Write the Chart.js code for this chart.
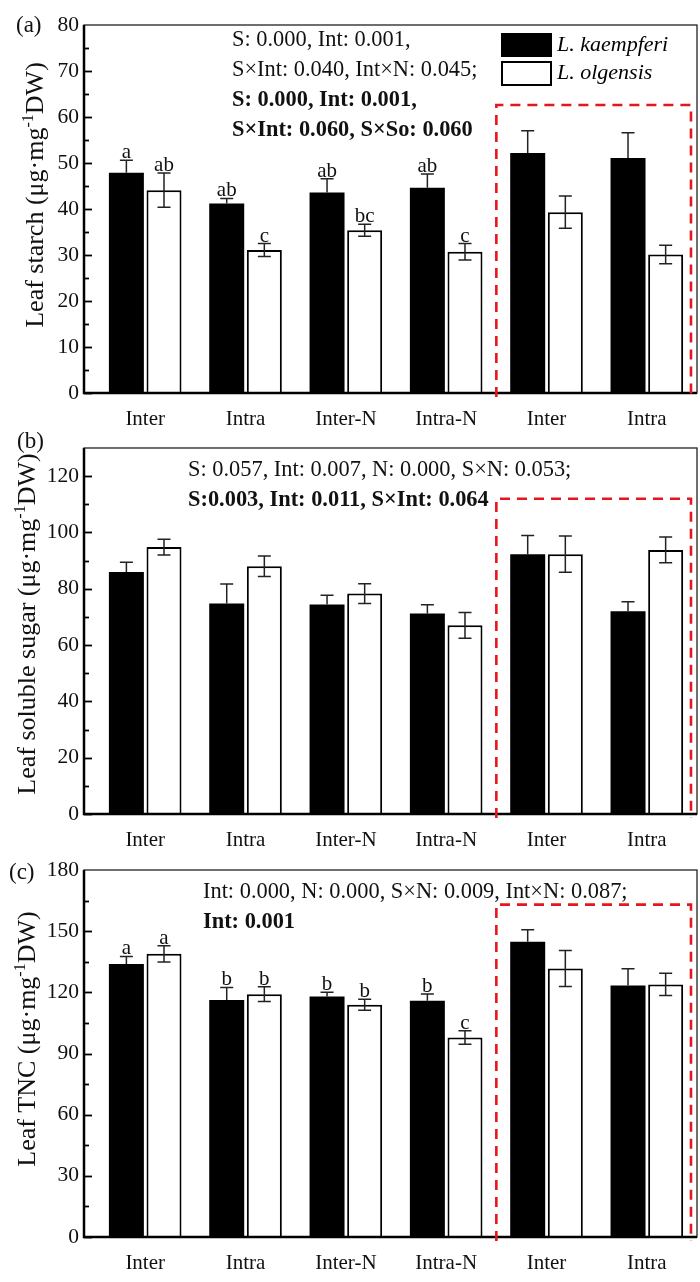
<!DOCTYPE html>
<html>
<head>
<meta charset="utf-8">
<script src="https://cdn.jsdelivr.net/npm/chart.js@4.4.0/dist/chart.umd.min.js"></script>
<style>
  body { margin: 0; background: #fff; width: 700px; height: 1282px; position: relative; overflow: hidden; }
  .panel { position: absolute; left: 0; width: 700px; }
</style>
</head>
<body>
<div class="panel" style="top:0;height:430px"><canvas id="chartA"></canvas></div>
<div class="panel" style="top:425px;height:425px"><canvas id="chartB"></canvas></div>
<div class="panel" style="top:850px;height:432px"><canvas id="chartC"></canvas></div>

<script>
// =======================
// Data
// =======================
const groups = ["Inter", "Intra", "Inter-N", "Intra-N", "Inter", "Intra"];
const species = ["L. kaempferi", "L. olgensis"];

// (a) leaf starch
const starchK = [47.9, 41.2, 43.6, 44.6, 52.2, 51.1];
const starchKErr = [2.7, 1.1, 3.0, 3.0, 4.8, 5.5];
const starchO = [44.1, 31.1, 35.4, 30.7, 39.3, 30.1];
const starchOErr = [3.7, 1.4, 1.3, 1.8, 3.5, 2.0];
const starchLettersK = ["a", "ab", "ab", "ab", "", ""];
const starchLettersO = ["ab", "c", "bc", "c", "", ""];

// (b) leaf soluble sugar
const sugarK = [86.0, 74.8, 74.4, 71.2, 92.3, 72.0];
const sugarKErr = [3.4, 6.9, 3.3, 3.1, 6.6, 3.4];
const sugarO = [94.8, 88.0, 78.3, 67.0, 92.3, 93.8];
const sugarOErr = [2.8, 3.6, 3.5, 4.6, 6.4, 4.6];

// (c) leaf TNC
const tncK = [133.9, 116.2, 118.0, 115.9, 144.8, 123.4];
const tncKErr = [3.7, 6.2, 2.0, 3.3, 5.9, 8.2];
const tncO = [138.9, 119.1, 113.9, 97.8, 131.7, 123.9];
const tncOErr = [4.0, 3.6, 2.7, 3.3, 8.8, 5.4];
const tncLettersK = ["a", "b", "b", "b", "", ""];
const tncLettersO = ["a", "b", "b", "c", "", ""];

// tick values
const ticksA = [0, 10, 20, 30, 40, 50, 60, 70, 80];
const ticksB = [0, 20, 40, 60, 80, 100, 120];
const ticksC = [0, 30, 60, 90, 120, 150, 180];

// stats text
const statsA = [
  ["S: 0.000, Int: 0.001,", false],
  ["S×Int: 0.040, Int×N: 0.045;", false],
  ["S: 0.000, Int: 0.001,", true],
  ["S×Int: 0.060, S×So: 0.060", true]
];
const statsB = [
  ["S: 0.057, Int: 0.007, N: 0.000, S×N: 0.053;", false],
  ["S:0.003, Int: 0.011, S×Int: 0.064", true]
];
const statsC = [
  ["Int: 0.000, N: 0.000, S×N: 0.009, Int×N: 0.087;", false],
  ["Int: 0.001", true]
];

const SERIF = '"Liberation Serif", "Times New Roman", serif';

// =======================
// Drawing helpers
// =======================
function drawYTitle(ctx, pieces, x, cy, size) {
  ctx.save();
  ctx.translate(x, cy);
  ctx.rotate(-Math.PI / 2);
  ctx.textBaseline = 'alphabetic';
  ctx.textAlign = 'left';
  const supSize = size * 0.62;
  const widths = pieces.map((p, i) => {
    ctx.font = (i === 1 ? supSize : size) + 'px ' + SERIF;
    return ctx.measureText(p).width;
  });
  let sx = -widths.reduce((a, b) => a + b, 0) / 2;
  pieces.forEach((p, i) => {
    ctx.font = (i === 1 ? supSize : size) + 'px ' + SERIF;
    ctx.fillStyle = '#111';
    ctx.fillText(p, sx, i === 1 ? -size * 0.38 : 0);
    sx += widths[i];
  });
  ctx.restore();
}

const panelPlugin = {
  id: 'panel',
  afterDatasetsDraw(chart, args, opts) {
    const ctx = chart.ctx, area = chart.chartArea;
    const xs = chart.scales.x, ys = chart.scales.y;
    ctx.save();

    // error bars and letters
    chart.data.datasets.forEach((ds, di) => {
      const meta = chart.getDatasetMeta(di);
      meta.data.forEach((bar, i) => {
        const v = ds.data[i].y, e = ds.errors[i];
        const yTop = ys.getPixelForValue(v + e);
        const yBot = ys.getPixelForValue(v - e);
        ctx.strokeStyle = '#222';
        ctx.lineWidth = 1.5;
        ctx.beginPath();
        ctx.moveTo(bar.x, ds.filled ? bar.y : yBot);
        ctx.lineTo(bar.x, yTop);
        ctx.moveTo(bar.x - 6.5, yTop); ctx.lineTo(bar.x + 6.5, yTop);
        if (!ds.filled) { ctx.moveTo(bar.x - 6.5, yBot); ctx.lineTo(bar.x + 6.5, yBot); }
        ctx.stroke();
        const letter = ds.letters ? ds.letters[i] : '';
        if (letter) {
          ctx.fillStyle = '#111';
          ctx.font = '21px ' + SERIF;
          ctx.textAlign = 'center';
          ctx.textBaseline = 'alphabetic';
          ctx.fillText(letter, bar.x, yTop - 2);
        }
      });
    });

    // frame
    ctx.strokeStyle = '#222';
    ctx.lineWidth = 1.3;
    ctx.strokeRect(area.left, area.top, area.right - area.left, area.bottom - area.top);
    ctx.strokeStyle = '#000';
    ctx.lineWidth = 2.5;
    ctx.beginPath();
    ctx.moveTo(area.left, area.top);
    ctx.lineTo(area.left, area.bottom);
    ctx.lineTo(area.right, area.bottom);
    ctx.stroke();

    // inward ticks (major + minor)
    ctx.lineWidth = 1.8;
    const step = opts.ticks[1] - opts.ticks[0];
    for (let v = 0; v < ys.max; v += step / 2) {
      const major = opts.ticks.includes(v);
      const py = Math.round(ys.getPixelForValue(v)) + 0.5;
      ctx.beginPath();
      ctx.moveTo(area.left, py);
      ctx.lineTo(area.left + (major ? 8 : 5), py);
      ctx.stroke();
    }

    // red dashed highlight box
    const bx0 = xs.getPixelForValue(4.5), bx1 = xs.getPixelForValue(6.44);
    const by = ys.getPixelForValue(opts.boxTop);
    ctx.strokeStyle = '#e5161e';
    ctx.lineWidth = 2.6;
    ctx.setLineDash([10, 7]);
    ctx.beginPath();
    ctx.moveTo(bx0, area.bottom + 4);
    ctx.lineTo(bx0, by);
    ctx.lineTo(bx1, by);
    ctx.lineTo(bx1, area.bottom + 4);
    ctx.stroke();
    ctx.setLineDash([]);

    // stats text
    ctx.fillStyle = '#111';
    ctx.textAlign = 'left';
    ctx.textBaseline = 'middle';
    opts.stats.forEach(([txt, bold], i) => {
      ctx.font = (bold ? 'bold ' : '') + '22.4px ' + SERIF;
      ctx.fillText(txt, area.left + opts.statsX, area.top + opts.statsY + i * 30);
    });

    // legend
    if (opts.legend) {
      const lx = 501, ly = 33;
      ctx.fillStyle = '#000';
      ctx.fillRect(lx, ly, 51, 24);
      ctx.strokeStyle = '#000';
      ctx.lineWidth = 2;
      ctx.strokeRect(lx + 1, ly + 29, 49, 23);
      ctx.font = 'italic 22px ' + SERIF;
      ctx.textBaseline = 'middle';
      ctx.fillText(species[0], lx + 56, ly + 12);
      ctx.fillText(species[1], lx + 56, ly + 40);
    }

    // panel label + y title
    ctx.font = '23px ' + SERIF;
    ctx.textBaseline = 'middle';
    ctx.fillStyle = '#111';
    ctx.fillText(opts.label, opts.labelPos[0], opts.labelPos[1]);
    drawYTitle(ctx, opts.title, opts.titleX, opts.titleY, 26);

    ctx.restore();
  }
};

// =======================
// Chart factory
// =======================
function makePanel(id, p) {
  const pts = arr => arr.map((v, i) => ({ x: i + 1, y: v }));
  return new Chart(document.getElementById(id), {
    type: 'bar',
    data: {
      datasets: [
        {
          label: species[0],
          data: pts(p.k),
          errors: p.kErr,
          letters: p.kLetters,
          filled: true,
          backgroundColor: '#000',
          borderColor: '#000',
          borderWidth: 0
        },
        {
          label: species[1],
          data: pts(p.o),
          errors: p.oErr,
          letters: p.oLetters,
          filled: false,
          backgroundColor: '#fff',
          borderColor: '#000',
          borderWidth: 2
        }
      ]
    },
    options: {
      responsive: true,
      maintainAspectRatio: false,
      animation: false,
      categoryPercentage: 0.75,
      barPercentage: 0.93,
      layout: { autoPadding: false, padding: { left: 0, right: 3, top: p.padTop, bottom: 0 } },
      scales: {
        x: {
          type: 'linear',
          offset: false,
          min: 0.39,
          max: 6.5,
          grid: { display: false, drawTicks: false },
          border: { display: false },
          afterBuildTicks: s => { s.ticks = groups.map((g, i) => ({ value: i + 1 })); },
          afterFit: s => { s.height = p.xAxisH; },
          ticks: {
            padding: 14,
            color: '#111',
            font: { family: SERIF, size: 21 },
            callback: v => groups[v - 1]
          }
        },
        y: {
          min: 0,
          max: p.yMax,
          grid: { display: false, drawTicks: false },
          border: { display: false },
          afterBuildTicks: s => { s.ticks = p.ticks.map(v => ({ value: v })); },
          afterFit: s => { s.width = 84; },
          ticks: {
            padding: 5,
            color: '#111',
            font: { family: SERIF, size: 21.5 }
          }
        }
      },
      plugins: {
        legend: { display: false },
        tooltip: { enabled: false },
        panel: {
          ticks: p.ticks,
          boxTop: p.boxTop,
          stats: p.stats,
          statsX: p.statsX,
          statsY: p.statsY,
          legend: p.legend,
          label: p.label,
          labelPos: p.labelPos,
          title: p.title,
          titleX: p.titleX,
          titleY: p.titleY
        }
      }
    },
    plugins: [panelPlugin]
  });
}

makePanel('chartA', {
  k: starchK, kErr: starchKErr, kLetters: starchLettersK,
  o: starchO, oErr: starchOErr, oLetters: starchLettersO,
  ticks: ticksA, yMax: 80, boxTop: 62.6,
  padTop: 25, xAxisH: 37,
  stats: statsA, statsX: 148, statsY: 15, legend: true,
  label: '(a)', labelPos: [16, 26],
  title: ['Leaf starch (μg·mg', '-1', 'DW)'], titleX: 43, titleY: 195
});

makePanel('chartB', {
  k: sugarK, kErr: sugarKErr, kLetters: null,
  o: sugarO, oErr: sugarOErr, oLetters: null,
  ticks: ticksB, yMax: 130, boxTop: 112,
  padTop: 23, xAxisH: 36,
  stats: statsB, statsX: 104, statsY: 22, legend: false,
  label: '(b)', labelPos: [17, 17],
  title: ['Leaf soluble sugar (μg·mg', '-1', 'DW)'], titleX: 35, titleY: 199
});

makePanel('chartC', {
  k: tncK, kErr: tncKErr, kLetters: tncLettersK,
  o: tncO, oErr: tncOErr, oLetters: tncLettersO,
  ticks: ticksC, yMax: 180, boxTop: 163,
  padTop: 20, xAxisH: 45,
  stats: statsC, statsX: 119, statsY: 22, legend: false,
  label: '(c)', labelPos: [9, 23],
  title: ['Leaf TNC (μg·mg', '-1', 'DW)'], titleX: 35, titleY: 189
});
</script>
</body>
</html>
